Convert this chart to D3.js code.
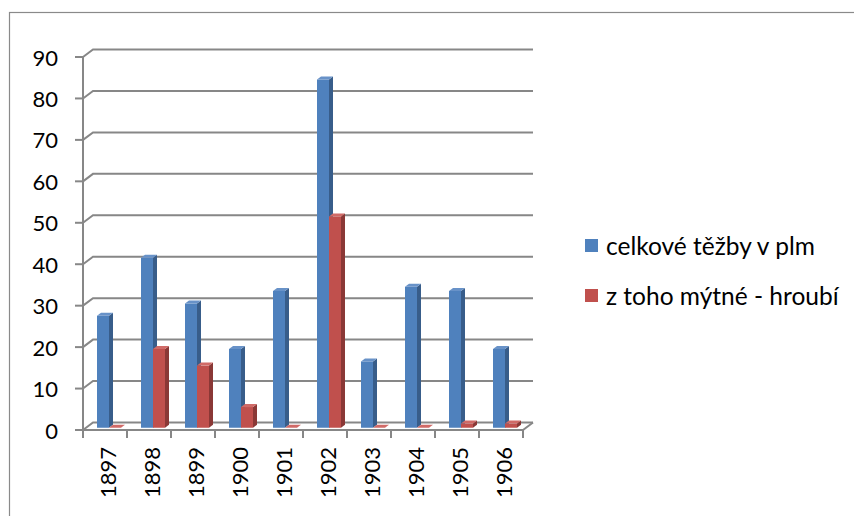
<!DOCTYPE html>
<html>
<head>
<meta charset="utf-8">
<script src="https://cdn.jsdelivr.net/npm/d3@7"></script>
<style>
  html, body { margin: 0; padding: 0; background: #fff; }
  svg { display: block; }
  text { font-family: Lato, "Liberation Sans", sans-serif; fill: #000; }
</style>
</head>
<body>
<svg id="chart" width="854" height="516"></svg>
<script>
const categories = ["1897","1898","1899","1900","1901","1902","1903","1904","1905","1906"];
const seriesNames = ["celkové těžby v plm", "z toho mýtné - hroubí"];
const totalValues = [27, 41, 30, 19, 33, 84, 16, 34, 33, 19];
const tollValues  = [0, 19, 15, 5, 0, 51, 0, 0, 1, 1];
const yTicks = [0, 10, 20, 30, 40, 50, 60, 70, 80, 90];

const colors = [
  { front: "#4F81BD", side: "#385D8A", top: "#6892C8" },
  { front: "#C0504D", side: "#8A3836", top: "#D06A67" }
];
const series = [totalValues, tollValues];

const svg = d3.select("#chart");
const DX = 10, DY = 7.5;            // depth offset of back wall
const D0 = 0.3, D1 = 0.7;           // bar depth span (fraction)
const x = d3.scaleBand().domain(categories).range([83, 523]).padding(0);
const y = d3.scaleLinear().domain([0, 90]).range([430, 57]);
const gridColor = "#878787";

// outer frame
svg.append("rect").attr("x", 9.5).attr("y", 12.5).attr("width", 860).attr("height", 520)
  .attr("fill", "none").attr("stroke", "#8a8a8a").attr("stroke-width", 1.2);

const g = svg.append("g");
const x0 = x.range()[0], x1 = x.range()[1];

// gridlines (back wall) with diagonal connectors from the front axis
yTicks.forEach(v => {
  const yy = y(v);
  g.append("path")
    .attr("d", `M${x0},${yy} L${x0 + DX},${yy - DY} L${x1 + DX},${yy - DY}`)
    .attr("fill", "none").attr("stroke", gridColor).attr("stroke-width", 2);
  g.append("line").attr("x1", x0 - 8).attr("x2", x0).attr("y1", yy).attr("y2", yy)
    .attr("stroke", gridColor).attr("stroke-width", 2);
  g.append("text").attr("x", 58).attr("y", yy).attr("text-anchor", "end")
    .attr("dominant-baseline", "central").attr("font-size", 22).text(v);
});
// vertical front axis
g.append("line").attr("x1", x0).attr("x2", x0).attr("y1", y(0)).attr("y2", y(90))
  .attr("stroke", gridColor).attr("stroke-width", 2);
// floor front edge and right diagonal
g.append("path")
  .attr("d", `M${x0},${y(0)} L${x1},${y(0)} L${x1 + DX},${y(0) - DY}`)
  .attr("fill", "none").attr("stroke", gridColor).attr("stroke-width", 2);
// category ticks
const bounds = categories.map(c => x(c)).concat([x1]);
bounds.forEach(bx => {
  g.append("line").attr("x1", bx).attr("x2", bx).attr("y1", y(0)).attr("y2", y(0) + 8)
    .attr("stroke", gridColor).attr("stroke-width", 2);
});
// category labels
categories.forEach(c => {
  const cx = x(c) + x.bandwidth() / 2;
  g.append("text").attr("transform", `translate(${cx + 2},447) rotate(-90)`)
    .attr("text-anchor", "end").attr("dominant-baseline", "central")
    .attr("font-size", 22).text(c);
});

// bars
const barW = 12, barOff = 11;
const bars = g.append("g");
categories.forEach((c, ci) => {
  series.forEach((vals, si) => {
    const v = vals[ci];
    const xl = x(c) + barOff + si * barW, xr = xl + barW;
    const yv = y(v), yb = y(0);
    const col = colors[si];
    const p = (px, py, d) => [px + d * DX, py - d * DY];
    const poly = pts => "M" + pts.map(q => q.join(",")).join("L") + "Z";
    // side
    bars.append("path").attr("d", poly([p(xr, yv, D0), p(xr, yv, D1), p(xr, yb, D1), p(xr, yb, D0)]))
      .attr("fill", col.side);
    // front
    bars.append("path").attr("d", poly([p(xl, yv, D0), p(xr, yv, D0), p(xr, yb, D0), p(xl, yb, D0)]))
      .attr("fill", col.front);
    // top
    bars.append("path").attr("d", poly([p(xl, yv, D0), p(xr, yv, D0), p(xr, yv, D1), p(xl, yv, D1)]))
      .attr("fill", col.top);
  });
});

// legend
const legend = svg.append("g");
seriesNames.forEach((name, i) => {
  const ly = 245 + i * 50;
  legend.append("rect").attr("x", 585).attr("y", ly - 6).attr("width", 13).attr("height", 13)
    .attr("fill", colors[i].front);
  legend.append("text").attr("x", 606).attr("y", ly).attr("dominant-baseline", "central")
    .attr("font-size", 24.5).text(name);
});
</script>
</body>
</html>
